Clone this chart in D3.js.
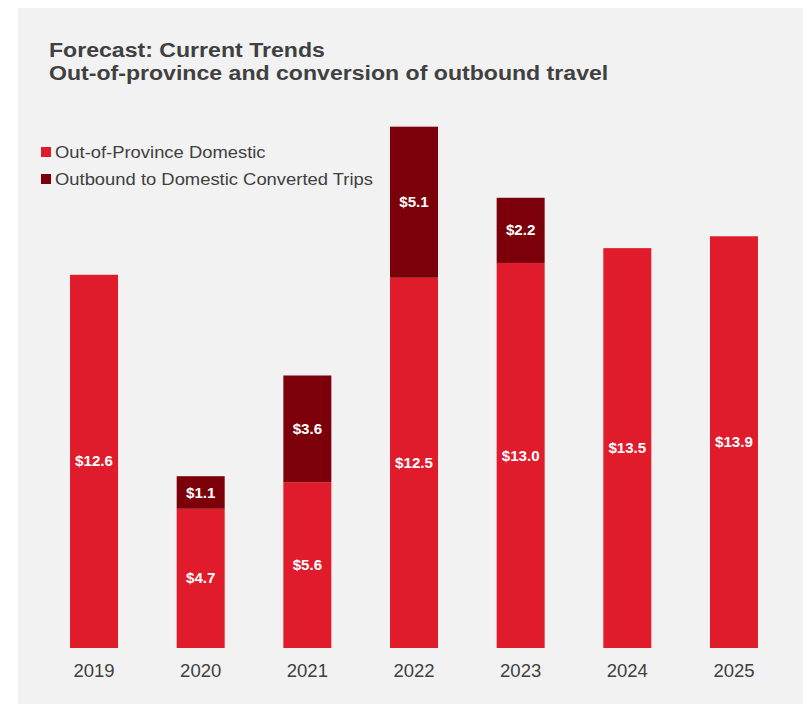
<!DOCTYPE html>
<html>
<head>
<meta charset="utf-8">
<script src="https://cdn.jsdelivr.net/npm/d3@7"></script>
<style>
  html, body { margin: 0; padding: 0; background: #ffffff; }
  svg { display: block; font-family: "Liberation Sans", Arial, sans-serif; }
</style>
</head>
<body>
<svg id="chart" width="807" height="704"></svg>
<script>
// Spending forecast, billions of dollars
const years = ["2019", "2020", "2021", "2022", "2023", "2024", "2025"];
const domestic = [12.6, 4.7, 5.6, 12.5, 13.0, 13.5, 13.9];
const converted = [0, 1.1, 3.6, 5.1, 2.2, 0, 0];
const seriesNames = ["Out-of-Province Domestic", "Outbound to Domestic Converted Trips"];
const seriesColors = ["#e01b2b", "#7c0009"];
const titleLines = ["Forecast: Current Trends", "Out-of-province and conversion of outbound travel"];

const svg = d3.select("#chart");
const textColor = "#404040";

// panel background
svg.append("rect")
  .attr("x", 18).attr("y", 8)
  .attr("width", 785).attr("height", 696)
  .attr("fill", "#f2f2f2");

// stack the two series
const rows = years.map((y, i) => ({ year: y, domestic: domestic[i], converted: converted[i] }));
const stack = d3.stack().keys(["domestic", "converted"]);
const layers = stack(rows);

const x = d3.scaleBand()
  .domain(years)
  .range([40.7, 787.3])
  .paddingInner(0.55)
  .paddingOuter(0.275);

const y = d3.scaleLinear()
  .domain([0, 18])
  .range([648, 648 - 18 * 29.62]);

const layerG = svg.append("g").selectAll("g")
  .data(layers)
  .join("g")
  .attr("fill", (d, i) => seriesColors[i]);

layerG.selectAll("rect")
  .data(d => d.filter(p => p[1] - p[0] > 0))
  .join("rect")
  .attr("x", d => x(d.data.year))
  .attr("width", x.bandwidth())
  .attr("y", d => y(d[1]))
  .attr("height", d => y(d[0]) - y(d[1]));

// value labels inside segments
layerG.selectAll("text")
  .data(d => d.filter(p => p[1] - p[0] > 0))
  .join("text")
  .attr("transform", d => `translate(${x(d.data.year) + x.bandwidth() / 2},${(y(d[0]) + y(d[1])) / 2}) scale(1.08,1)`)
  .attr("text-anchor", "middle")
  .attr("dy", "0.36em")
  .attr("fill", "#ffffff")
  .attr("font-weight", "bold")
  .attr("font-size", 14)
  .text(d => "$" + d3.format(".1f")(d[1] - d[0]));

// x axis labels
const xAxis = d3.axisBottom(x).tickSize(0).tickPadding(0);
const axisG = svg.append("g")
  .attr("transform", "translate(0,648)")
  .call(xAxis);
axisG.select(".domain").remove();
axisG.selectAll("text")
  .attr("y", 29)
  .attr("dy", 0)
  .attr("fill", textColor)
  .attr("font-size", 18.5)
  .attr("font-family", "Liberation Sans, Arial, sans-serif");

// title
svg.append("g").selectAll("text")
  .data(titleLines)
  .join("text")
  .attr("transform", (d, i) => `translate(49,${57 + i * 23}) scale(1.1,1)`)
  .attr("fill", textColor)
  .attr("font-weight", "bold")
  .attr("font-size", 21)
  .text(d => d);

// legend
const legend = svg.append("g").selectAll("g")
  .data(seriesNames)
  .join("g")
  .attr("transform", (d, i) => `translate(41,${147 + i * 27})`);
legend.append("rect")
  .attr("width", 10).attr("height", 10)
  .attr("fill", (d, i) => seriesColors[i]);
legend.append("text")
  .attr("transform", "translate(14,10.5) scale(1.15,1)")
  .attr("fill", textColor)
  .attr("font-size", 16)
  .text(d => d);
</script>
</body>
</html>
